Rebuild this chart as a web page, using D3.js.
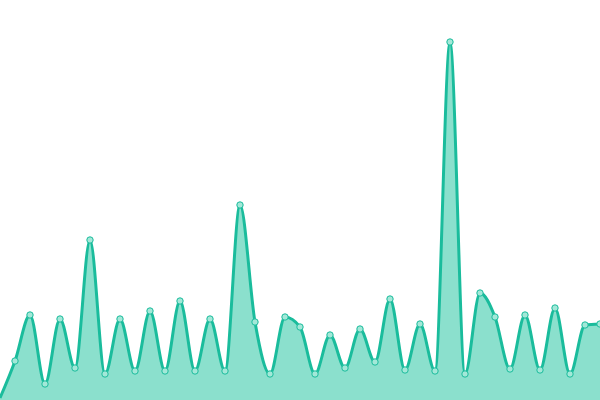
<!DOCTYPE html>
<html>
<head>
<meta charset="utf-8">
<script src="https://cdn.jsdelivr.net/npm/d3@7"></script>
<style>
html,body{margin:0;padding:0;background:#fff;}
svg{display:block;}
</style>
</head>
<body>
<svg id="chart" width="600" height="400"></svg>
<script>
const indices = d3.range(41);
const values = [2, 39, 85, 16, 81, 32, 160, 26, 81, 29, 89, 29, 99, 29, 81, 29, 195, 78, 26, 83, 73, 26, 65, 32, 71, 38, 101, 30, 76, 29, 358, 26, 107, 83, 31, 85, 30, 92, 26, 75, 76];

const width = 600, height = 400;
const svg = d3.select("#chart");
const x = d3.scaleLinear().domain([0, indices.length - 1]).range([0, width]);
const y = d3.scaleLinear().domain([0, 400]).range([height, 0]);

const data = indices.map((i) => ({i, v: values[i]}));

const area = d3.area()
  .x(d => x(d.i))
  .y0(y(0))
  .y1(d => y(d.v))
  .curve(d3.curveMonotoneX);

const line = d3.line()
  .x(d => x(d.i))
  .y(d => y(d.v))
  .curve(d3.curveMonotoneX);

svg.append("path").datum(data).attr("d", area).attr("fill", "#8be0cd");
svg.append("path").datum(data).attr("d", line)
  .attr("fill", "none").attr("stroke", "#1abc9c").attr("stroke-width", 3);

svg.selectAll("circle").data(data.slice(1)).enter().append("circle")
  .attr("cx", d => x(d.i)).attr("cy", d => y(d.v)).attr("r", 3.2)
  .attr("fill", "#a3e8d8").attr("stroke", "#1abc9c").attr("stroke-width", 1);
</script>
</body>
</html>
